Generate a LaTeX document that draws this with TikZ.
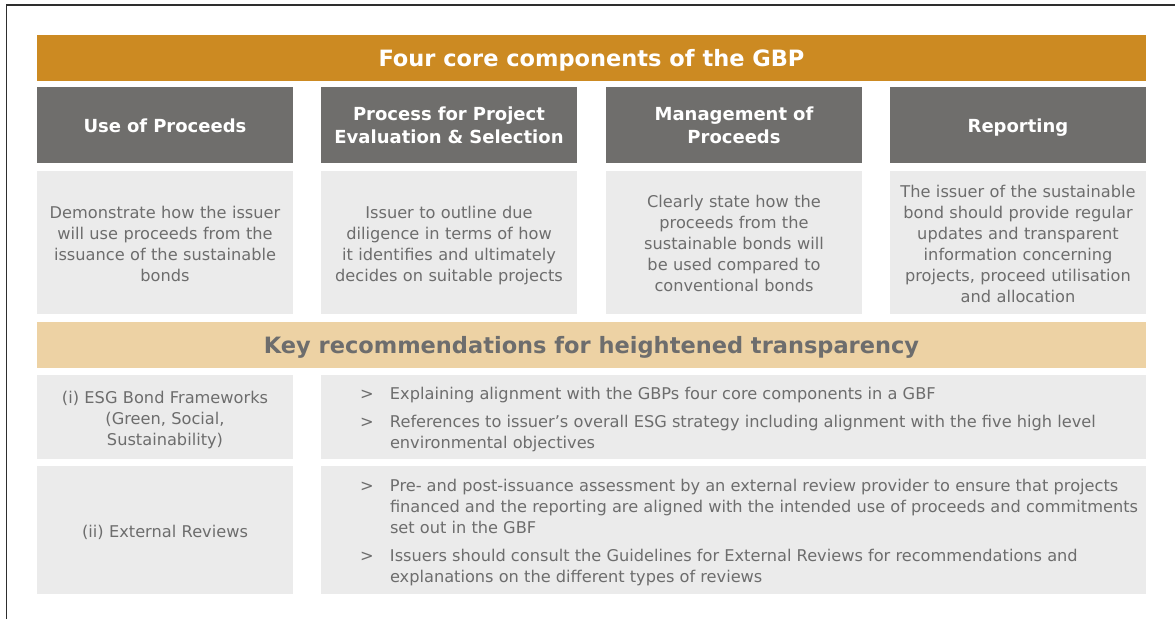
\documentclass[tikz,border=0pt]{standalone}
\usepackage{fontspec}
\setmainfont{DejaVu Sans}
\usetikzlibrary{positioning}

\definecolor{gbporange}{HTML}{CC8A22}
\definecolor{keyorange}{HTML}{EDD2A4}
\definecolor{headgrey}{HTML}{6F6E6C}
\definecolor{boxgrey}{HTML}{EBEBEB}
\definecolor{txtgrey}{HTML}{6D6D6D}
\definecolor{framecol}{HTML}{2E2E2E}

\newcommand{\pt}[1]{\makebox[30pt][l]{>}#1}
\newcommand{\ptcont}{\hspace*{30pt}}

\tikzset{
  % fixed first-line height and last-line depth, so text sits the same in every box
  linebox/.style 2 args={execute at begin node={\rule{0pt}{#1}},
    execute at end node={\rule[-#2]{0pt}{#2}}},
  banner/.style={fill=gbporange, text=white, inner sep=0pt,
    minimum width=1109pt, minimum height=46pt, text height=17pt, text depth=1pt,
    font=\bfseries\fontsize{22.5}{26}\selectfont},
  keybanner/.style={banner, fill=keyorange, text=txtgrey},
  headbox/.style={fill=headgrey, text=white, inner sep=0pt, linebox={20pt}{5.2pt},
    minimum width=256pt, minimum height=76pt, text width=252pt, align=center,
    font=\bfseries\fontsize{18}{23}\selectfont},
  descbox/.style={fill=boxgrey, text=txtgrey, inner sep=0pt, linebox={19.3pt}{4.5pt},
    minimum width=256pt, minimum height=143pt, text width=252pt, align=center,
    font=\fontsize{16.2}{21}\selectfont},
  rowbox/.style={descbox, linebox={17.5pt}{4.5pt}},
  listbox/.style={fill=boxgrey, inner sep=0pt, minimum width=825pt},
  listtxt/.style={text=txtgrey, inner sep=0pt, align=left, anchor=west,
    yshift=-3pt, font=\fontsize{16.2}{21}\selectfont}
}

\begin{document}
\begin{tikzpicture}[x=1pt,y=-1pt]
\useasboundingbox (0,0) rectangle (1175,619);
\draw[framecol, line width=1.5pt] (6.5,619) -- (6.5,5) -- (1175,5);

% core components
\node[banner] (core) at (591.5,58) {Four core components of the GBP};

\node[headbox] (use) at (165,125) {Use of Proceeds};
\node[headbox] (eval) at (449,125) {Process for Project\\Evaluation \& Selection};
\node[headbox] (manage) at (734,125) {Management of\\Proceeds};
\node[headbox] (report) at (1018,125) {Reporting};

\node[descbox] (usetxt) at (165,242.5) {Demonstrate how the issuer\\will use proceeds from the\\issuance of the sustainable\\bonds};
\node[descbox] (evaltxt) at (449,242.5) {Issuer to outline due\\diligence in terms of how\\it identifies and ultimately\\decides on suitable projects};
\node[descbox] (managetxt) at (734,242.5) {Clearly state how the\\proceeds from the\\sustainable bonds will\\be used compared to\\conventional bonds};
\node[descbox] (reporttxt) at (1018,242.5) {The issuer of the sustainable\\bond should provide regular\\updates and transparent\\information concerning\\projects, proceed utilisation\\and allocation};

% recommendations
\node[keybanner] (key) at (591.5,345) {Key recommendations for heightened transparency};

\node[rowbox, minimum height=84pt] (esg) at (165,417) {(i) ESG Bond Frameworks\\(Green, Social,\\Sustainability)};
\node[listbox, minimum height=84pt] (esglist) at (733.5,417) {};
\node[listtxt, right=39pt of esglist.west] (esgpts) {%
  \pt{Explaining alignment with the GBPs four core components in a GBF}\\[7pt]
  \pt{References to issuer’s overall ESG strategy including alignment with the five high level}\\
  \ptcont environmental objectives};

\node[rowbox, minimum height=128pt] (ext) at (165,530) {(ii) External Reviews};
\node[listbox, minimum height=128pt] (extlist) at (733.5,530) {};
\node[listtxt, right=39pt of extlist.west] (extpts) {%
  \pt{Pre- and post-issuance assessment by an external review provider to ensure that projects}\\
  \ptcont financed and the reporting are aligned with the intended use of proceeds and commitments\\
  \ptcont set out in the GBF\\[7pt]
  \pt{Issuers should consult the Guidelines for External Reviews for recommendations and}\\
  \ptcont explanations on the different types of reviews};
\end{tikzpicture}
\end{document}
